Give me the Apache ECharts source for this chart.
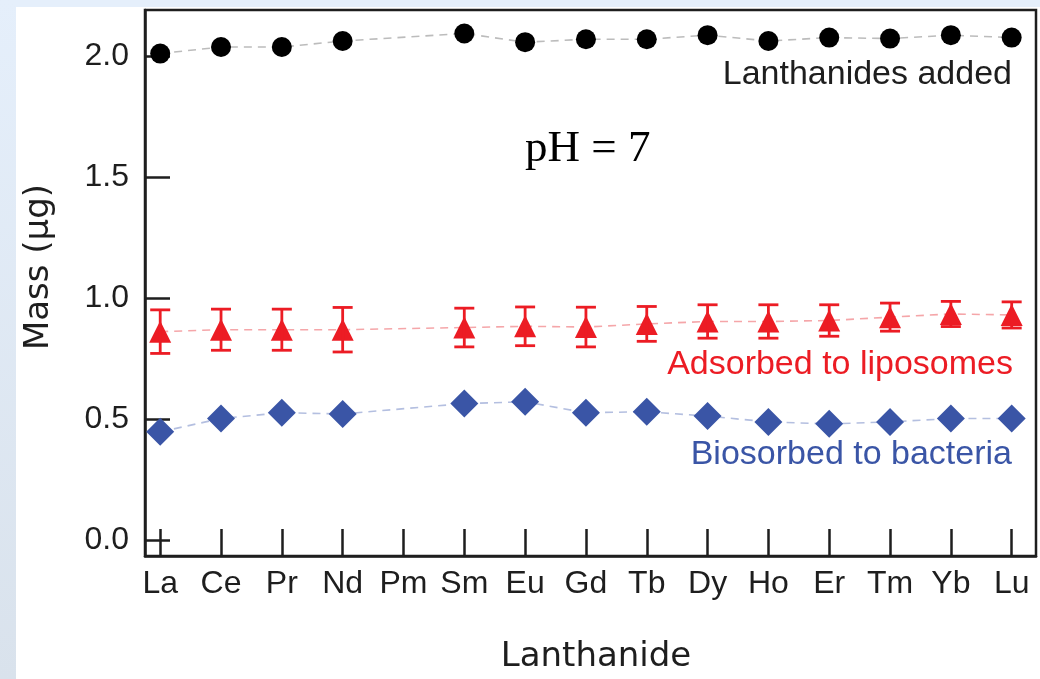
<!DOCTYPE html>
<html>
<head>
<meta charset="utf-8">
<script src="https://cdn.jsdelivr.net/npm/echarts@6/dist/echarts.min.js"></script>
<style>
  html, body { margin: 0; padding: 0; background: #ffffff; }
  #frame { position: relative; width: 1040px; height: 679px; overflow: hidden; background: #ffffff; }
  #stripTop { position: absolute; left: 0; top: 0; width: 1040px; height: 7px; background: #e5effb; }
  #stripLeft { position: absolute; left: 0; top: 0; width: 16px; height: 679px;
    background: linear-gradient(#e5effb, #d9e2ec); }
  #chart { position: absolute; left: 0; top: 0; width: 1040px; height: 679px; }
</style>
</head>
<body>
<div id="frame">
  <div id="stripTop"></div>
  <div id="stripLeft"></div>
  <div id="chart"></div>
</div>
<script>
// Lanthanide series (Pm not measured)
const elements = ['La', 'Ce', 'Pr', 'Nd', 'Pm', 'Sm', 'Eu', 'Gd', 'Tb', 'Dy', 'Ho', 'Er', 'Tm', 'Yb', 'Lu'];
// Mass of each lanthanide added (µg)
const added = [2.010, 2.037, 2.037, 2.062, null, 2.093, 2.057, 2.069, 2.069, 2.086, 2.062, 2.076, 2.072, 2.086, 2.076];
// Mass adsorbed to liposomes (µg) and its error
const liposomes = [0.861, 0.869, 0.869, 0.869, null, 0.878, 0.883, 0.880, 0.893, 0.903, 0.903, 0.907, 0.921, 0.934, 0.930];
const liposomeErr = [0.090, 0.085, 0.085, 0.092, null, 0.080, 0.080, 0.082, 0.072, 0.069, 0.069, 0.065, 0.058, 0.052, 0.054];
// Mass biosorbed to bacteria (µg)
const bacteria = [0.447, 0.502, 0.526, 0.521, null, 0.564, 0.571, 0.526, 0.530, 0.512, 0.488, 0.480, 0.488, 0.502, 0.502];
// Y tick values
const yTicks = [0, 0.5, 1.0, 1.5, 2.0];

const RED = '#ec1c24';
const BLUE = '#3a55a6';
const INK = '#1e1e1e';
const sans = 'Liberation Sans, Arial, sans-serif';
const titleFont = 'DejaVu Sans, Verdana, sans-serif';

const pairs = arr => arr.map((v, i) => [i, v == null ? '-' : v]);
const errData = liposomes
  .map((v, i) => v == null ? null : [i, v - liposomeErr[i], v + liposomeErr[i]])
  .filter(d => d);

const chart = echarts.init(document.getElementById('chart'), null, { renderer: 'canvas' });

chart.setOption({
  animation: false,
  backgroundColor: 'transparent',
  grid: {
    left: 145, right: 4, top: 10, bottom: 122,
    show: true, borderColor: INK, borderWidth: 2.5, backgroundColor: 'transparent'
  },
  xAxis: {
    type: 'value',
    min: -0.25, max: 14.4,
    name: 'Lanthanide',
    nameLocation: 'middle',
    nameGap: 84,
    nameTextStyle: { fontFamily: titleFont, fontSize: 34, color: INK, padding: [0, 0, 0, 11] },
    axisLine: { show: true, onZero: false, lineStyle: { color: INK, width: 2.5 } },
    axisTick: { show: true, inside: true, length: 27, lineStyle: { color: INK, width: 2.5 },
      customValues: elements.map((_, i) => i) },
    axisLabel: { show: true, margin: 12, fontFamily: sans, fontSize: 32, color: INK,
      customValues: elements.map((_, i) => i),
      formatter: v => elements[Math.round(v)] },
    splitLine: { show: false }
  },
  yAxis: {
    type: 'value',
    min: -0.066, max: 2.19,
    name: 'Mass (μg)',
    nameLocation: 'middle',
    nameGap: 89,
    nameRotate: 90,
    nameTextStyle: { fontFamily: titleFont, fontSize: 34, color: INK, padding: [0, 0, 0, 32] },
    axisLine: { show: true, onZero: false, lineStyle: { color: INK, width: 2.5 } },
    axisTick: { show: true, inside: true, length: 25, lineStyle: { color: INK, width: 2.5 },
      customValues: yTicks },
    axisLabel: { show: true, margin: 16, fontFamily: sans, fontSize: 32, color: INK,
      customValues: yTicks,
      formatter: v => v.toFixed(1) },
    splitLine: { show: false }
  },
  series: [
    {
      name: 'Lanthanides added',
      type: 'line',
      data: pairs(added),
      connectNulls: true,
      symbol: 'circle',
      symbolSize: 20,
      itemStyle: { color: '#000000' },
      lineStyle: { color: '#bcbcbc', width: 1.6, type: [8, 6] },
      z: 3
    },
    {
      name: 'Adsorbed to liposomes (error)',
      type: 'custom',
      data: errData,
      renderItem: (params, api) => {
        const x = api.value(0);
        const lo = api.coord([x, api.value(1)]);
        const hi = api.coord([x, api.value(2)]);
        const half = 10;
        const style = { stroke: RED, lineWidth: 2.8 };
        return {
          type: 'group',
          children: [
            { type: 'line', shape: { x1: lo[0], y1: lo[1], x2: hi[0], y2: hi[1] }, style },
            { type: 'line', shape: { x1: lo[0] - half, y1: lo[1], x2: lo[0] + half, y2: lo[1] }, style },
            { type: 'line', shape: { x1: hi[0] - half, y1: hi[1], x2: hi[0] + half, y2: hi[1] }, style }
          ]
        };
      },
      z: 4
    },
    {
      name: 'Adsorbed to liposomes',
      type: 'line',
      data: pairs(liposomes),
      connectNulls: true,
      symbol: 'triangle',
      symbolSize: [22, 22],
      itemStyle: { color: RED },
      lineStyle: { color: '#f5a6a9', width: 1.6, type: [8, 6] },
      z: 3
    },
    {
      name: 'Biosorbed to bacteria',
      type: 'line',
      data: pairs(bacteria),
      connectNulls: true,
      symbol: 'diamond',
      symbolSize: [28, 28],
      itemStyle: { color: BLUE },
      lineStyle: { color: '#b4bfe0', width: 1.6, type: [8, 6] },
      z: 3
    }
  ],
  graphic: [
    { type: 'text', right: 28, top: 58,
      style: { text: 'Lanthanides added', fill: INK, font: '34px ' + sans, textAlign: 'right' } },
    { type: 'text', left: 525, top: 127,
      style: { text: 'pH = 7', fill: '#000000', font: '45px Liberation Serif, Times New Roman, serif' } },
    { type: 'text', right: 27, top: 348,
      style: { text: 'Adsorbed to liposomes', fill: RED, font: '34px ' + sans, textAlign: 'right' } },
    { type: 'text', right: 28, top: 438,
      style: { text: 'Biosorbed to bacteria', fill: BLUE, font: '34px ' + sans, textAlign: 'right' } }
  ]
});
</script>
</body>
</html>
